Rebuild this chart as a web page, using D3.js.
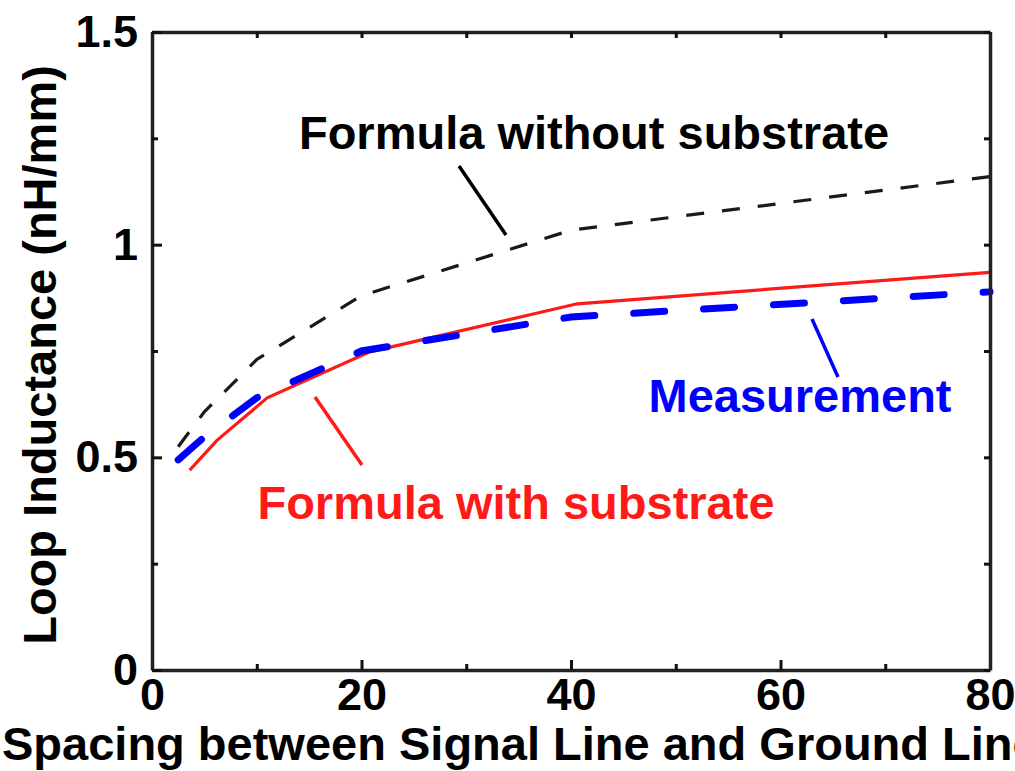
<!DOCTYPE html>
<html><head><meta charset="utf-8">
<script src="https://cdn.jsdelivr.net/npm/d3@7"></script>
<style>body{margin:0;background:#fff}svg{display:block}text{font-family:Arial,"Liberation Sans",sans-serif;font-weight:bold}</style>
</head><body><svg id="c" width="1015" height="771"></svg>
<script>
// Data
const xNoSub = [2.5, 5, 10, 20, 40, 80];
const yNoSub = [0.525, 0.607, 0.73, 0.88, 1.034, 1.16];
const xSub = [3.6, 6.2, 11, 20.8, 40.6, 80];
const ySub = [0.47, 0.54, 0.64, 0.748, 0.861, 0.935];
const xMeas = [2.5, 5, 10, 20, 40, 80];
const yMeas = [0.494, 0.548, 0.64, 0.75, 0.83, 0.889];
const xTicks = [0, 10, 20, 30, 40, 50, 60, 70, 80];
const xLabels = ["0", "", "20", "", "40", "", "60", "", "80"];
const yTicks = [0, 0.25, 0.5, 0.75, 1, 1.25, 1.5];
const yLabels = ["0", "", "0.5", "", "1", "", "1.5"];

const svg = d3.select("#c");
const L = 152, R = 990, T = 32, B = 670;
const x = d3.scaleLinear().domain([0, 80]).range([L, R]);
const y = d3.scaleLinear().domain([0, 1.5]).range([B, T]);

const line = d3.line().x(d => x(d[0])).y(d => y(d[1]));

// Curves
svg.append("path").datum(d3.zip(xNoSub, yNoSub)).attr("d", line)
  .attr("fill", "none").attr("stroke", "#1a1a1a").attr("stroke-width", 3.2)
  .attr("stroke-dasharray", "18,18");
svg.append("path").datum(d3.zip(xSub, ySub)).attr("d", line)
  .attr("fill", "none").attr("stroke", "#ff1a1a").attr("stroke-width", 3.2);
svg.append("path").datum(d3.zip(xMeas, yMeas)).attr("d", line)
  .attr("fill", "none").attr("stroke", "#0000ff").attr("stroke-width", 7)
  .attr("stroke-linecap", "round").attr("stroke-dasharray", "31,39");

// Axes (box with inward ticks)
const tickLen = (i, lbl) => lbl[i] !== "" ? 10 : 6;
const axB = svg.append("g").attr("transform", `translate(0,${B})`)
  .call(d3.axisBottom(x).tickValues(xTicks).tickSize(0).tickFormat((d, i) => xLabels[i]).tickPadding(8));
axB.selectAll(".tick line").attr("y2", (d, i) => -tickLen(i, xLabels));
const axT = svg.append("g").attr("transform", `translate(0,${T})`)
  .call(d3.axisTop(x).tickValues(xTicks).tickSize(0).tickFormat(""));
axT.selectAll(".tick line").attr("y2", 6);
const axL = svg.append("g").attr("transform", `translate(${L},0)`)
  .call(d3.axisLeft(y).tickValues(yTicks).tickSize(0).tickFormat((d, i) => yLabels[i]).tickPadding(14));
axL.selectAll(".tick line").attr("x2", (d, i) => tickLen(i, yLabels));
const axR = svg.append("g").attr("transform", `translate(${R},0)`)
  .call(d3.axisRight(y).tickValues(yTicks).tickSize(0).tickFormat(""));
axR.selectAll(".tick line").attr("x2", -6);

svg.selectAll(".domain").attr("stroke", "#222").attr("stroke-width", 3.5);
svg.selectAll(".tick line").attr("stroke", "#111").attr("stroke-width", 3);
svg.selectAll(".tick text").attr("font-size", 45).attr("font-family", "Arial, 'Liberation Sans', sans-serif")
  .attr("font-weight", "bold").attr("fill", "#000");
axB.selectAll(".tick text").attr("dy", null).attr("y", 40);

// Axis titles
svg.append("text").attr("x", 2).attr("y", 760).attr("font-size", 47).attr("fill", "#000")
  .text("Spacing between Signal Line and Ground Line (\u03bcm)");
svg.append("text").attr("transform", "translate(56,355) rotate(-90)").attr("text-anchor", "middle")
  .attr("font-size", 47).attr("fill", "#000").text("Loop Inductance (nH/mm)");

// Annotations
svg.append("text").attr("x", 594).attr("y", 149).attr("text-anchor", "middle")
  .attr("font-size", 47).attr("fill", "#000").text("Formula without substrate");
svg.append("line").attr("x1", 459).attr("y1", 166).attr("x2", 506).attr("y2", 235)
  .attr("stroke", "#000").attr("stroke-width", 3.5);
svg.append("text").attr("x", 800).attr("y", 412).attr("text-anchor", "middle")
  .attr("font-size", 47).attr("fill", "#0000ff").text("Measurement");
svg.append("line").attr("x1", 812).attr("y1", 319).attr("x2", 838).attr("y2", 377)
  .attr("stroke", "#0000ff").attr("stroke-width", 3.5);
svg.append("text").attr("x", 516).attr("y", 519).attr("text-anchor", "middle")
  .attr("font-size", 47).attr("fill", "#ff1a1a").text("Formula with substrate");
svg.append("line").attr("x1", 315).attr("y1", 397).attr("x2", 362).attr("y2", 465)
  .attr("stroke", "#ff1a1a").attr("stroke-width", 3.5);
</script></body></html>
